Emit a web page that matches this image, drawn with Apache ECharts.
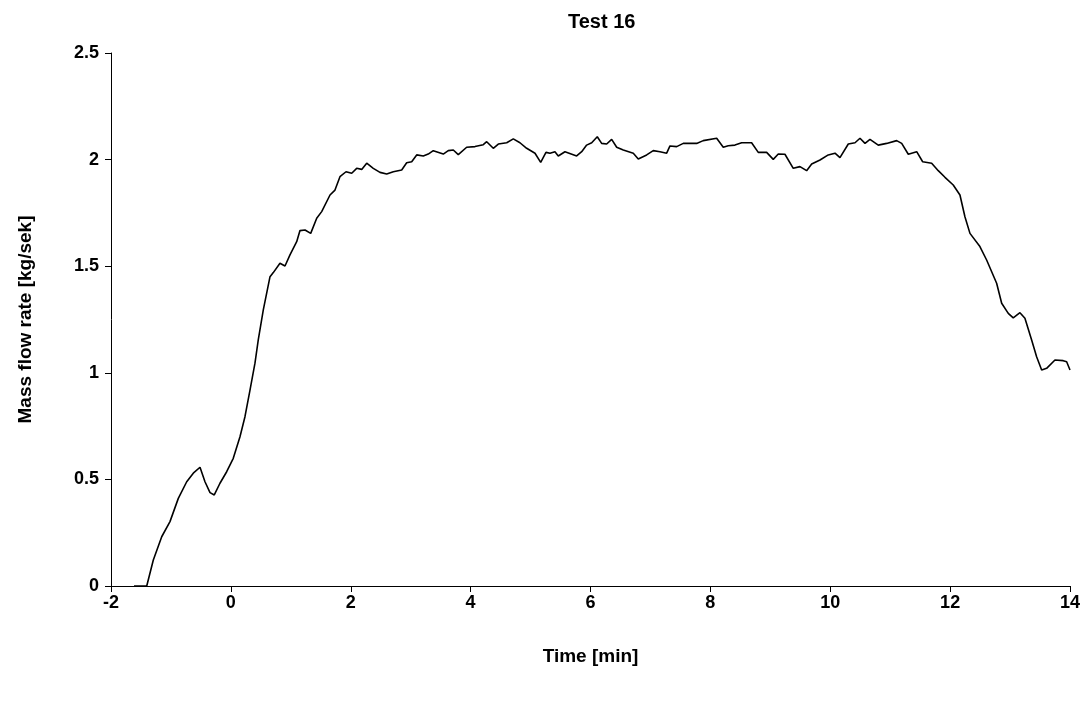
<!DOCTYPE html>
<html>
<head>
<meta charset="utf-8">
<script src="https://cdn.jsdelivr.net/npm/echarts@6/dist/echarts.min.js"></script>
<style>
  html, body { margin: 0; padding: 0; background: #fff; }
  #chart { width: 1090px; height: 701px; }
</style>
</head>
<body>
<div id="chart"></div>
<script>
// time [min]
const timeMin = [
  -1.616, -1.404, -1.294, -1.154, -1.016, -0.877, -0.737, -0.627, -0.515, -0.432,
  -0.348, -0.277, -0.182, -0.070, 0.040, 0.152, 0.235, 0.319, 0.402, 0.457,
  0.541, 0.653, 0.708, 0.819, 0.903, 0.986, 1.098, 1.153, 1.237, 1.332,
  1.432, 1.515, 1.654, 1.737, 1.820, 1.921, 2.016, 2.099, 2.183, 2.266,
  2.376, 2.488, 2.600, 2.710, 2.850, 2.933, 3.017, 3.100, 3.210, 3.293,
  3.377, 3.544, 3.627, 3.711, 3.794, 3.934, 4.073, 4.211, 4.268, 4.378,
  4.462, 4.602, 4.712, 4.823, 4.935, 5.074, 5.169, 5.257, 5.324, 5.407,
  5.462, 5.574, 5.769, 5.853, 5.936, 6.020, 6.113, 6.186, 6.270, 6.353,
  6.437, 6.547, 6.714, 6.797, 6.937, 7.047, 7.159, 7.271, 7.326, 7.438,
  7.548, 7.771, 7.881, 8.105, 8.215, 8.298, 8.410, 8.522, 8.688, 8.799,
  8.939, 9.049, 9.133, 9.244, 9.383, 9.495, 9.606, 9.690, 9.829, 9.967,
  10.079, 10.162, 10.301, 10.413, 10.496, 10.580, 10.663, 10.801, 10.941, 11.108,
  11.192, 11.302, 11.442, 11.542, 11.692, 11.802, 11.914, 12.052, 12.164, 12.247,
  12.331, 12.497, 12.609, 12.776, 12.860, 12.970, 13.053, 13.165, 13.248, 13.360,
  13.443, 13.527, 13.610, 13.749, 13.887, 13.944, 14.0
];

// mass flow rate [kg/sek]
const massFlow = [
  0, 0, 0.122, 0.231, 0.302, 0.411, 0.489, 0.529, 0.557, 0.489,
  0.438, 0.427, 0.482, 0.536, 0.599, 0.700, 0.794, 0.919, 1.045, 1.154,
  1.295, 1.451, 1.470, 1.514, 1.501, 1.553, 1.615, 1.667, 1.670, 1.654,
  1.725, 1.756, 1.834, 1.857, 1.920, 1.943, 1.936, 1.959, 1.954, 1.983,
  1.959, 1.940, 1.932, 1.943, 1.951, 1.985, 1.990, 2.022, 2.017, 2.026,
  2.042, 2.026, 2.042, 2.045, 2.023, 2.058, 2.061, 2.070, 2.084, 2.053,
  2.073, 2.079, 2.097, 2.079, 2.053, 2.030, 1.987, 2.034, 2.030, 2.037,
  2.017, 2.037, 2.017, 2.037, 2.068, 2.079, 2.107, 2.076, 2.073, 2.095,
  2.058, 2.045, 2.030, 2.003, 2.022, 2.042, 2.037, 2.030, 2.064, 2.061,
  2.076, 2.076, 2.089, 2.100, 2.058, 2.065, 2.068, 2.079, 2.079, 2.034,
  2.034, 2.001, 2.026, 2.025, 1.959, 1.967, 1.948, 1.979, 1.998, 2.022,
  2.030, 2.009, 2.073, 2.079, 2.100, 2.076, 2.095, 2.068, 2.076, 2.089,
  2.076, 2.025, 2.037, 1.990, 1.983, 1.948, 1.917, 1.881, 1.834, 1.732,
  1.654, 1.592, 1.529, 1.420, 1.326, 1.279, 1.258, 1.282, 1.256, 1.154,
  1.075, 1.013, 1.021, 1.060, 1.057, 1.052, 1.013
];

const chart = echarts.init(document.getElementById('chart'));
const font = 'Liberation Sans, Arial, sans-serif';

chart.setOption({
  animation: false,
  title: {
    text: 'Test 16',
    left: 563,
    top: 7,
    textStyle: { fontFamily: font, fontSize: 20, fontWeight: 'bold', color: '#000' }
  },
  grid: { left: 111, right: 20, top: 53, bottom: 115 },
  xAxis: {
    type: 'value',
    min: -2,
    max: 14,
    interval: 2,
    name: 'Time [min]',
    nameLocation: 'middle',
    nameGap: 61,
    nameTextStyle: { fontFamily: font, fontSize: 19, fontWeight: 'bold', color: '#000' },
    axisLine: { onZero: false, lineStyle: { color: '#000', width: 1 } },
    axisTick: { show: true, length: 6, lineStyle: { color: '#000' } },
    axisLabel: { fontFamily: font, fontSize: 18, fontWeight: 'bold', color: '#000', margin: 8 },
    splitLine: { show: false }
  },
  yAxis: {
    type: 'value',
    min: 0,
    max: 2.5,
    interval: 0.5,
    name: 'Mass flow rate [kg/sek]',
    nameLocation: 'middle',
    nameGap: 76,
    nameTextStyle: { fontFamily: font, fontSize: 19, fontWeight: 'bold', color: '#000' },
    axisLine: { show: true, onZero: false, lineStyle: { color: '#000', width: 1 } },
    axisTick: { show: true, length: 6, lineStyle: { color: '#000' } },
    axisLabel: { fontFamily: font, fontSize: 18, fontWeight: 'bold', color: '#000', margin: 12 },
    splitLine: { show: false }
  },
  series: [{
    type: 'line',
    data: timeMin.map((t, i) => [t, massFlow[i]]),
    showSymbol: false,
    lineStyle: { color: '#000', width: 1.6 }
  }]
});
</script>
</body>
</html>
